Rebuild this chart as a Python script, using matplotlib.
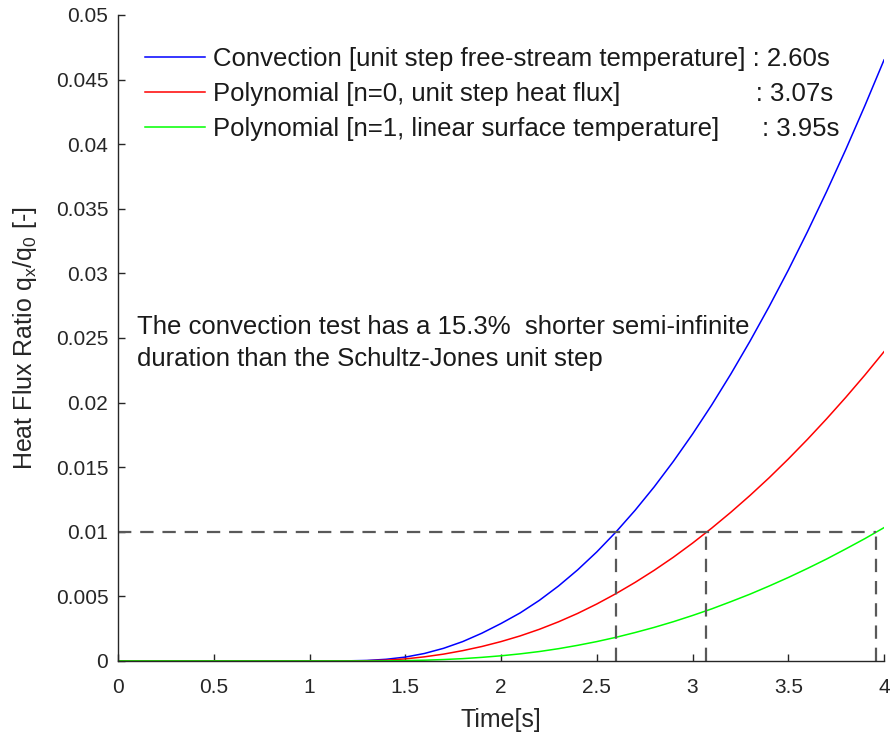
import numpy as np
import matplotlib
matplotlib.use("Agg")
import matplotlib.pyplot as plt

plt.rcParams['font.family'] = ['Liberation Sans', 'DejaVu Sans']

# time axis [s] and heat flux ratio
time = [0.0, 0.1, 0.2, 0.3, 0.4, 0.5, 0.6, 0.7, 0.8, 0.9,
        1.0, 1.1, 1.2, 1.3, 1.4, 1.5, 1.6, 1.7, 1.8, 1.9,
        2.0, 2.1, 2.2, 2.3, 2.4, 2.5, 2.6, 2.7, 2.8, 2.9,
        3.0, 3.1, 3.2, 3.3, 3.4, 3.5, 3.6, 3.7, 3.8, 3.9, 4.0]

convection = [0, 0, 0, 0, 0, 0, 0, 0, 0, 0,
              0, 0, 0.00001, 0.00004, 0.00013, 0.00030, 0.00058, 0.00098, 0.00150, 0.00215,
              0.00290, 0.00372, 0.00469, 0.00580, 0.00705, 0.00844, 0.00998, 0.01166, 0.01348, 0.01545,
              0.01756, 0.01981, 0.02221, 0.02475, 0.02743, 0.03025, 0.03322, 0.03633, 0.03958, 0.04298, 0.04652]

poly_n0 = [0, 0, 0, 0, 0, 0, 0, 0, 0, 0,
           0, 0, 0, 0.00002, 0.00006, 0.00016, 0.00032, 0.00053, 0.00080, 0.00112,
           0.00150, 0.00194, 0.00245, 0.00303, 0.00368, 0.00441, 0.00521, 0.00608, 0.00702, 0.00803,
           0.00912, 0.01028, 0.01151, 0.01281, 0.01418, 0.01563, 0.01715, 0.01874, 0.02040, 0.02213, 0.02394]

poly_n1 = [0, 0, 0, 0, 0, 0, 0, 0, 0, 0,
           0, 0, 0, 0, 0.00001, 0.00003, 0.00006, 0.00011, 0.00018, 0.00028,
           0.00040, 0.00055, 0.00073, 0.00095, 0.00121, 0.00150, 0.00183, 0.00220, 0.00260, 0.00304,
           0.00352, 0.00403, 0.00459, 0.00517, 0.00580, 0.00646, 0.00716, 0.00789, 0.00867, 0.00947, 0.01032]

labels = ["Convection [unit step free-stream temperature] : 2.60s",
          "Polynomial [n=0, unit step heat flux]" + " " * 19 + ": 3.07s",
          "Polynomial [n=1, linear surface temperature]" + " " * 6 + ": 3.95s"]

threshold = 0.01
cross_times = [2.60, 3.07, 3.96]

fig = plt.figure(figsize=(8.9, 7.34), dpi=100)
ax = fig.add_axes([0.1326, 0.0995, 0.8607, 0.8801])

ax.plot(time, convection, color=(0, 0, 1), lw=1.1, label=labels[0])
ax.plot(time, poly_n0, color=(1, 0, 0), lw=1.1, label=labels[1])
ax.plot(time, poly_n1, color=(0, 1, 0), lw=1.1, label=labels[2])

dash = dict(color='0.35', lw=1.6, dashes=(6, 4))
ax.plot([0, cross_times[-1]], [threshold, threshold], **dash)
for t in cross_times:
    ax.plot([t, t], [0, threshold], **dash)

ax.set_xlim(0, 4)
ax.set_ylim(0, 0.05)
ax.set_xticks([0, 0.5, 1, 1.5, 2, 2.5, 3, 3.5, 4])
ax.set_xticklabels(['0', '0.5', '1', '1.5', '2', '2.5', '3', '3.5', '4'])
ax.set_yticks([0, 0.005, 0.01, 0.015, 0.02, 0.025, 0.03, 0.035, 0.04, 0.045, 0.05])
ax.set_yticklabels(['0', '0.005', '0.01', '0.015', '0.02', '0.025', '0.03', '0.035', '0.04', '0.045', '0.05'])

axcol = (0.15, 0.15, 0.15)
for s in ['top', 'right']:
    ax.spines[s].set_visible(False)
for s in ['left', 'bottom']:
    ax.spines[s].set_color(axcol)
    ax.spines[s].set_linewidth(1.0)
ax.tick_params(direction='in', length=5, width=1.0, colors=axcol, labelsize=15, pad=7)
ax.tick_params(axis='x', pad=12)

ax.set_xlabel('Time[s]', fontsize=18, color=axcol, labelpad=8)
ax.set_ylabel(r'Heat Flux Ratio q$\mathregular{_x}$/q$\mathregular{_0}$ [-]', fontsize=18, color=axcol, labelpad=12)

leg = ax.legend(loc='upper left', bbox_to_anchor=(0.035, 0.950), frameon=False,
                fontsize=18.5, handlelength=2.35, handletextpad=0.31, labelspacing=0.43,
                borderpad=0, borderaxespad=0)
for txt in leg.get_texts():
    txt.set_color((0.1, 0.1, 0.1))

ax.text(0.025, 0.535, 'The convection test has a 15.3%  shorter semi-infinite\nduration than the Schultz-Jones unit step',
        transform=ax.transAxes, fontsize=18.5, color=(0.1, 0.1, 0.1), va='top', ha='left', linespacing=1.4)

fig.savefig('out.png', dpi=100)
